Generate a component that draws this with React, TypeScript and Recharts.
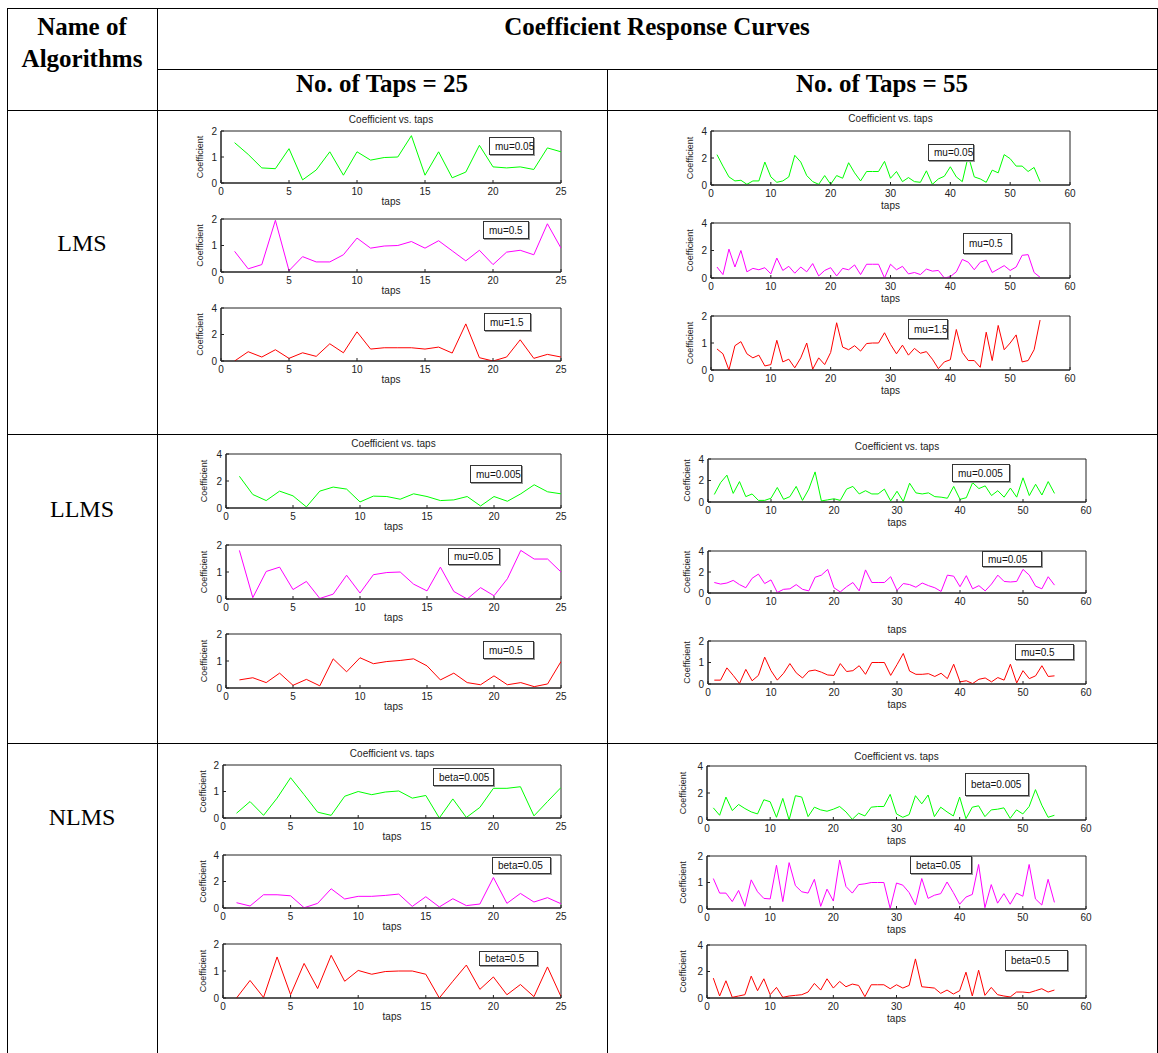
import { LineChart, Line, XAxis, YAxis, ReferenceArea } from 'recharts';

const taps25 = [1, 2, 3, 4, 5, 6, 7, 8, 9, 10, 11, 12, 13, 14, 15, 16, 17, 18, 19, 20, 21, 22, 23, 24, 25];
const taps55 = [
  1, 2, 3, 4, 5, 6, 7, 8, 9, 10, 11, 12, 13, 14, 15, 16, 17, 18, 19, 20, 21, 22, 23, 24, 25, 26, 27, 28,
  29, 30, 31, 32, 33, 34, 35, 36, 37, 38, 39, 40, 41, 42, 43, 44, 45, 46, 47, 48, 49, 50, 51, 52, 53, 54, 55,
];
const xTicks25 = [0, 5, 10, 15, 20, 25];
const xTicks55 = [0, 10, 20, 30, 40, 50, 60];
const yTicks2 = [0, 1, 2];
const yTicks4 = [0, 2, 4];

// LMS
const lms25Mu005 = [1.55, 1.1, 0.58, 0.55, 1.32, 0.12, 0.5, 1.2, 0.3, 1.2, 0.88, 0.98, 1.0, 1.82, 0.3, 1.2, 0.2, 0.42, 1.45, 0.62, 0.58, 0.62, 0.52, 1.35, 1.2];
const lms25Mu05 = [0.78, 0.12, 0.28, 1.95, 0.05, 0.58, 0.38, 0.38, 0.65, 1.28, 0.9, 0.98, 1.0, 1.15, 0.9, 1.18, 0.8, 0.42, 0.82, 0.28, 0.75, 0.82, 0.65, 1.82, 0.9];
const lms25Mu15 = [0, 0.7, 0.3, 0.85, 0.2, 0.62, 0.35, 1.3, 0.62, 2.2, 0.9, 1.0, 1.0, 1.0, 0.9, 1.05, 0.6, 2.8, 0.25, 0.0, 0.3, 1.6, 0.2, 0.5, 0.3];
const lms55Mu005 = [
  2.25, 1.4, 0.6, 0.3, 0.35, 0.05, 0.3, 0.3, 1.7, 0.6, 0.2, 0.3, 0.6, 2.2, 1.7, 0.7, 0.25, 0.05, 0.7, 0.05,
  0.7, 0.5, 1.65, 0.9, 0.3, 1.0, 1.0, 1.0, 1.75, 0.5, 1.0, 0.25, 0.55, 0.25, 0.2, 1.05, 0.05, 0.45, 0.65, 1.35,
  0.6, 0.25, 2.15, 0.6, 0.45, 0.2, 1.1, 0.9, 2.25, 1.95, 1.4, 1.4, 1.0, 1.3, 0.25,
];
const lms55Mu05 = [
  0.8, 0.25, 2.1, 0.8, 2.0, 0.45, 0.7, 0.6, 0.75, 0.3, 1.45, 0.55, 0.85, 0.35, 0.8, 0.45, 1.05, 0.15, 0.55, 0.75,
  0.15, 0.7, 0.6, 0.95, 0.25, 1.0, 1.0, 1.0, 0.0, 1.0, 0.6, 0.85, 0.3, 0.4, 0.25, 0.65, 0.5, 0.55, 0.0, 0.1,
  0.45, 1.35, 1.15, 0.6, 1.15, 1.3, 0.4, 0.65, 0.9, 0.55, 0.8, 1.65, 1.7, 0.4, 0.05,
];
const lms55Mu15 = [
  0.78, 0.6, 0.0, 0.9, 1.05, 0.6, 0.45, 0.55, 0.15, 0.2, 1.1, 0.3, 0.4, 0.08, 0.45, 1.0, 0.03, 0.45, 0.2, 0.65,
  1.75, 0.85, 0.75, 0.9, 0.7, 0.98, 1.0, 1.0, 1.38, 0.95, 0.6, 0.92, 0.55, 0.8, 0.62, 0.68, 0.4, 0.05, 0.3, 0.38,
  1.5, 0.65, 0.35, 0.35, 0.1, 1.4, 0.35, 1.65, 0.75, 1.0, 1.3, 0.3, 0.35, 0.75, 1.85,
];

// LLMS
const llms25Mu0005 = [2.35, 1.0, 0.55, 1.25, 0.9, 0.08, 1.25, 1.55, 1.4, 0.45, 0.88, 0.85, 0.65, 1.05, 0.85, 0.55, 0.6, 0.85, 0.15, 0.85, 0.5, 1.05, 1.72, 1.2, 1.05];
const llms25Mu005 = [1.8, 0.05, 1.02, 1.18, 0.35, 0.65, 0.02, 0.18, 0.88, 0.22, 0.9, 0.98, 1.0, 0.55, 0.3, 1.18, 0.28, 0.0, 0.42, 0.12, 0.75, 1.8, 1.48, 1.48, 1.0];
const llms25Mu05 = [0.3, 0.38, 0.2, 0.55, 0.1, 0.32, 0.08, 1.08, 0.6, 1.12, 0.9, 0.98, 1.02, 1.08, 0.82, 0.3, 0.55, 0.2, 0.12, 0.45, 0.12, 0.2, 0.05, 0.15, 0.98];
const llms55Mu0005 = [
  0.7, 1.8, 2.5, 0.8, 1.9, 0.5, 0.75, 0.15, 0.15, 0.35, 1.35, 0.25, 0.5, 1.45, 0.15, 1.2, 2.8, 0.1, 0.2, 0.3,
  0.15, 1.2, 1.45, 0.75, 1.05, 0.75, 0.75, 1.2, 0.1, 1.0, 0.05, 1.75, 0.85, 0.75, 0.85, 0.5, 0.45, 0.35, 1.45, 0.25,
  0.4, 1.8, 1.25, 1.5, 0.6, 1.05, 0.45, 1.3, 0.45, 2.25, 0.6, 1.65, 0.65, 1.9, 0.8,
];
const llms55Mu005 = [
  1.0, 0.85, 0.95, 1.2, 0.8, 0.5, 1.4, 1.8, 0.9, 1.25, 0.05, 0.35, 0.4, 0.8, 0.35, 0.2, 1.5, 1.7, 2.25, 0.5,
  0.1, 0.6, 1.0, 0.2, 2.2, 1.0, 1.0, 1.0, 1.55, 0.25, 0.9, 0.8, 0.55, 0.95, 0.7, 0.5, 0.15, 1.7, 1.6, 0.6,
  1.65, 0.4, 0.7, 0.2, 0.85, 1.7, 1.1, 1.05, 1.1, 2.25, 1.7, 0.65, 0.4, 1.55, 0.75,
];
const llms55Mu05 = [
  0.18, 0.18, 0.75, 0.4, 0.02, 0.68, 0.15, 0.4, 1.25, 0.62, 0.18, 0.5, 0.95, 0.52, 0.28, 0.6, 0.65, 0.55, 0.42, 0.4,
  0.95, 0.58, 0.62, 0.85, 0.45, 1.0, 1.0, 1.0, 0.4, 0.9, 1.42, 0.6, 0.45, 0.45, 0.48, 0.35, 0.5, 0.25, 0.92, 0.1,
  0.15, 0.02, 0.22, 0.28, 0.1, 0.3, 0.18, 0.92, 0.05, 0.62, 0.25, 0.38, 0.85, 0.35, 0.38,
];

// NLMS
const nlms25Beta0005 = [0.18, 0.62, 0.1, 0.75, 1.52, 0.88, 0.22, 0.1, 0.82, 1.0, 0.88, 0.98, 1.02, 0.75, 0.85, 0.0, 0.72, 0.02, 0.4, 1.12, 1.12, 1.18, 0.08, 0.62, 1.15];
const nlms25Beta005 = [0.4, 0.15, 1.0, 1.0, 0.92, 0.02, 0.35, 1.45, 0.68, 0.88, 0.88, 0.95, 1.05, 0.12, 0.85, 0.08, 0.7, 0.18, 0.3, 2.3, 0.35, 1.1, 0.45, 0.78, 0.32];
const nlms25Beta05 = [0.0, 0.65, 0.02, 1.52, 0.12, 1.28, 0.35, 1.58, 0.62, 1.02, 0.88, 0.98, 1.0, 1.0, 0.88, 0.0, 0.62, 1.22, 0.32, 0.78, 0.12, 0.5, 0.05, 1.15, 0.05];
const nlms55Beta0005 = [
  0.9, 0.35, 1.7, 0.7, 1.15, 0.85, 0.6, 0.45, 1.5, 1.35, 0.2, 1.6, 0.0, 1.8, 1.7, 0.25, 0.95, 0.75, 0.65, 0.8,
  1.0, 0.6, 0.05, 0.5, 0.3, 0.95, 1.0, 1.0, 1.9, 0.45, 0.2, 0.4, 1.8, 1.2, 1.85, 0.25, 0.95, 0.6, 0.3, 1.7,
  0.1, 0.95, 1.05, 0.25, 0.75, 0.8, 0.9, 0.12, 0.75, 0.45, 1.0, 2.25, 1.1, 0.2, 0.35,
];
const nlms55Beta005 = [
  1.15, 0.6, 0.6, 0.28, 0.7, 0.1, 1.1, 0.65, 0.4, 0.38, 1.65, 0.28, 1.75, 0.88, 0.65, 0.6, 1.12, 0.1, 0.75, 0.3,
  1.85, 0.85, 0.6, 0.92, 0.95, 1.0, 1.0, 1.0, 0.02, 0.98, 0.9, 0.62, 0.15, 1.15, 0.4, 0.52, 0.58, 1.02, 0.62, 0.18,
  0.45, 0.55, 1.68, 0.05, 0.92, 0.22, 0.58, 0.18, 0.6, 0.48, 1.68, 0.38, 0.15, 1.12, 0.25,
];
const nlms55Beta05 = [
  1.5, 0.15, 1.3, 0.05, 0.15, 0.25, 1.65, 0.55, 1.45, 0.25, 0.8, 0.05, 0.15, 0.2, 0.25, 0.45, 1.1, 0.6, 1.45, 0.75,
  1.25, 0.85, 1.05, 0.95, 0.1, 1.0, 1.0, 1.0, 0.7, 1.0, 0.75, 0.95, 2.95, 0.85, 0.8, 0.75, 0.35, 0.6, 0.3, 0.55,
  1.95, 0.15, 2.1, 0.2, 0.8, 0.25, 0.15, 0.08, 0.45, 0.45, 0.4, 0.55, 0.7, 0.45, 0.6,
];

const GREEN = '#00ff00';
const MAGENTA = '#ff00ff';
const RED = '#ff0000';

const sans = '"Liberation Sans", Arial, Helvetica, sans-serif';
const serif = '"Liberation Serif", "Times New Roman", Times, serif';
const axisColor = '#222';
const tickStyle = { fontSize: 10, fill: '#222', fontFamily: sans };

type Box = { x: number; y: number; w: number; h: number };

interface PlotProps {
  box: Box;
  taps: number[];
  values: number[];
  color: string;
  xTicks: number[];
  yTicks: number[];
  legendText: string;
  legend: Box;
  title?: number; // distance from box top to title centre
  tapsGap?: number; // box bottom to "taps" baseline
  ylabGap?: number;
}

function MiniPlot({ box, taps, values, color, xTicks, yTicks, legendText, legend, title, tapsGap = 22, ylabGap = 21 }: PlotProps) {
  const L = 40;
  const T = 8;
  const R = 12;
  const B = tapsGap + 6;
  const data = taps.map((t, i) => ({ tap: t, value: values[i] }));
  const xMax = xTicks[xTicks.length - 1];
  const yMax = yTicks[yTicks.length - 1];

  return (
    <>
      {title !== undefined && (
        <div
          style={{
            position: 'absolute',
            left: box.x,
            width: box.w,
            top: box.y - title - 7,
            height: 14,
            lineHeight: '14px',
            textAlign: 'center',
            fontFamily: sans,
            fontSize: 10,
            color: '#222',
          }}
        >
          Coefficient vs. taps
        </div>
      )}
      <div style={{ position: 'absolute', left: box.x - L, top: box.y - T }}>
        <LineChart
          width={box.w + L + R}
          height={box.h + T + B}
          data={data}
          margin={{ top: T, right: R, left: 0, bottom: B - tapsGap }}
        >
          <XAxis
            dataKey="tap"
            type="number"
            domain={[0, xMax]}
            ticks={xTicks}
            interval={0}
            allowDataOverflow
            height={tapsGap}
            tickSize={-3}
            tickMargin={8}
            tick={tickStyle}
            stroke={axisColor}
            label={{ value: 'taps', position: 'insideBottom', offset: 0, style: { fontSize: 10, fill: '#222', fontFamily: sans } }}
          />
          <YAxis
            type="number"
            domain={[0, yMax]}
            ticks={yTicks}
            interval={0}
            allowDataOverflow
            width={L}
            tickSize={-3}
            tickMargin={7}
            tick={tickStyle}
            stroke={axisColor}
            label={{
              value: 'Coefficient',
              angle: -90,
              position: 'insideLeft',
              offset: L - ylabGap,
              style: { fontSize: 9, fill: '#222', fontFamily: sans, textAnchor: 'middle' },
            }}
          />
          {/* axes box, as in MATLAB's "box on" */}
          <ReferenceArea x1={0} x2={xMax} y1={0} y2={yMax} fill="none" stroke={axisColor} strokeWidth={1} ifOverflow="visible" />
          <Line
            dataKey="value"
            type="linear"
            stroke={color}
            strokeWidth={1}
            dot={false}
            isAnimationActive={false}
          />
        </LineChart>
      </div>
      <div
        style={{
          position: 'absolute',
          left: legend.x,
          top: legend.y,
          width: legend.w,
          height: legend.h,
          boxSizing: 'border-box',
          border: '1px solid #333',
          boxShadow: '1px 1px 0 #999',
          background: '#fff',
          display: 'flex',
          alignItems: 'center',
          paddingLeft: 5,
          whiteSpace: 'nowrap',
          fontFamily: sans,
          fontSize: 10,
          color: '#111',
        }}
      >
        {legendText}
      </div>
    </>
  );
}

function HLine({ x1, x2, y }: { x1: number; x2: number; y: number }) {
  return <div style={{ position: 'absolute', left: x1, top: y, width: x2 - x1, height: 1, background: '#000' }} />;
}

function VLine({ x, y1, y2 }: { x: number; y1: number; y2: number }) {
  return <div style={{ position: 'absolute', left: x, top: y1, width: 1, height: y2 - y1, background: '#000' }} />;
}

function CellText({ left, width, cy, text, bold, size }: { left: number; width: number; cy: number; text: string; bold?: boolean; size: number }) {
  return (
    <div
      style={{
        position: 'absolute',
        left,
        width,
        top: cy - 16,
        height: 32,
        lineHeight: '32px',
        textAlign: 'center',
        fontFamily: serif,
        fontWeight: bold ? 'bold' : 'normal',
        fontSize: size,
        color: '#000',
        whiteSpace: 'nowrap',
      }}
    >
      {text}
    </div>
  );
}

export default function App() {
  return (
    <div style={{ position: 'absolute', left: 0, top: 0, width: 1158, height: 1053, background: '#fff', overflow: 'hidden' }}>
      {/* table grid */}
      <HLine x1={7} x2={1158} y={8} />
      <HLine x1={157} x2={1158} y={69} />
      <HLine x1={7} x2={1158} y={110} />
      <HLine x1={7} x2={1158} y={434} />
      <HLine x1={7} x2={1158} y={743} />
      <VLine x={7} y1={8} y2={1053} />
      <VLine x={157} y1={8} y2={1053} />
      <VLine x={607} y1={69} y2={1053} />
      <VLine x={1157} y1={8} y2={1053} />

      <CellText left={7} width={150} cy={27} text="Name of" bold size={25} />
      <CellText left={7} width={150} cy={59} text="Algorithms" bold size={25} />
      <CellText left={157} width={1000} cy={27} text="Coefficient Response Curves" bold size={25} />
      <CellText left={157} width={450} cy={84} text="No. of Taps = 25" bold size={25} />
      <CellText left={607} width={550} cy={84} text="No. of Taps = 55" bold size={25} />
      <CellText left={7} width={150} cy={243} text="LMS" size={24} />
      <CellText left={7} width={150} cy={509} text="LLMS" size={24} />
      <CellText left={7} width={150} cy={817} text="NLMS" size={24} />

      {/* LMS, 25 taps */}
      <MiniPlot box={{ x: 221, y: 131, w: 340, h: 52 }} title={11} taps={taps25} values={lms25Mu005} color={GREEN} xTicks={xTicks25} yTicks={yTicks2} legendText="mu=0.05" legend={{ x: 489, y: 137, w: 45, h: 18 }} />
      <MiniPlot box={{ x: 221, y: 219, w: 340, h: 53 }} taps={taps25} values={lms25Mu05} color={MAGENTA} xTicks={xTicks25} yTicks={yTicks2} legendText="mu=0.5" legend={{ x: 483, y: 221, w: 46, h: 18 }} />
      <MiniPlot box={{ x: 221, y: 308, w: 340, h: 53 }} taps={taps25} values={lms25Mu15} color={RED} xTicks={xTicks25} yTicks={yTicks4} legendText="mu=1.5" legend={{ x: 484, y: 313, w: 47, h: 18 }} />

      {/* LMS, 55 taps */}
      <MiniPlot box={{ x: 711, y: 131, w: 359, h: 54 }} title={12} tapsGap={24} taps={taps55} values={lms55Mu005} color={GREEN} xTicks={xTicks55} yTicks={yTicks4} legendText="mu=0.05" legend={{ x: 928, y: 144, w: 46, h: 17 }} />
      <MiniPlot box={{ x: 711, y: 223, w: 359, h: 55 }} tapsGap={24} taps={taps55} values={lms55Mu05} color={MAGENTA} xTicks={xTicks55} yTicks={yTicks4} legendText="mu=0.5" legend={{ x: 963, y: 233, w: 49, h: 21 }} />
      <MiniPlot box={{ x: 711, y: 316, w: 359, h: 54 }} tapsGap={24} taps={taps55} values={lms55Mu15} color={RED} xTicks={xTicks55} yTicks={yTicks2} legendText="mu=1.5" legend={{ x: 908, y: 319, w: 40, h: 20 }} />

      {/* LLMS, 25 taps */}
      <MiniPlot box={{ x: 226, y: 454, w: 335, h: 54 }} title={10} ylabGap={22} taps={taps25} values={llms25Mu0005} color={GREEN} xTicks={xTicks25} yTicks={yTicks4} legendText="mu=0.005" legend={{ x: 470, y: 465, w: 52, h: 18 }} />
      <MiniPlot box={{ x: 226, y: 545, w: 335, h: 54 }} ylabGap={22} taps={taps25} values={llms25Mu005} color={MAGENTA} xTicks={xTicks25} yTicks={yTicks2} legendText="mu=0.05" legend={{ x: 448, y: 548, w: 52, h: 17 }} />
      <MiniPlot box={{ x: 226, y: 634, w: 335, h: 54 }} ylabGap={22} taps={taps25} values={llms25Mu05} color={RED} xTicks={xTicks25} yTicks={yTicks2} legendText="mu=0.5" legend={{ x: 483, y: 641, w: 51, h: 18 }} />

      {/* LLMS, 55 taps */}
      <MiniPlot box={{ x: 708, y: 459, w: 378, h: 43 }} title={12} tapsGap={24} taps={taps55} values={llms55Mu0005} color={GREEN} xTicks={xTicks55} yTicks={yTicks4} legendText="mu=0.005" legend={{ x: 952, y: 464, w: 58, h: 18 }} />
      <MiniPlot box={{ x: 708, y: 551, w: 378, h: 42 }} tapsGap={40} taps={taps55} values={llms55Mu005} color={MAGENTA} xTicks={xTicks55} yTicks={yTicks4} legendText="mu=0.05" legend={{ x: 982, y: 551, w: 60, h: 16 }} />
      <MiniPlot box={{ x: 708, y: 641, w: 378, h: 43 }} tapsGap={24} taps={taps55} values={llms55Mu05} color={RED} xTicks={xTicks55} yTicks={yTicks2} legendText="mu=0.5" legend={{ x: 1015, y: 644, w: 59, h: 16 }} />

      {/* NLMS, 25 taps */}
      <MiniPlot box={{ x: 223, y: 765, w: 338, h: 53 }} title={11} ylabGap={20} taps={taps25} values={nlms25Beta0005} color={GREEN} xTicks={xTicks25} yTicks={yTicks2} legendText="beta=0.005" legend={{ x: 433, y: 768, w: 61, h: 18 }} />
      <MiniPlot box={{ x: 223, y: 855, w: 338, h: 53 }} ylabGap={20} taps={taps25} values={nlms25Beta005} color={MAGENTA} xTicks={xTicks25} yTicks={yTicks4} legendText="beta=0.05" legend={{ x: 492, y: 857, w: 59, h: 17 }} />
      <MiniPlot box={{ x: 223, y: 944, w: 338, h: 54 }} ylabGap={20} taps={taps25} values={nlms25Beta05} color={RED} xTicks={xTicks25} yTicks={yTicks2} legendText="beta=0.5" legend={{ x: 479, y: 951, w: 59, h: 15 }} />

      {/* NLMS, 55 taps */}
      <MiniPlot box={{ x: 707, y: 766, w: 379, h: 54 }} title={9} tapsGap={24} ylabGap={24} taps={taps55} values={nlms55Beta0005} color={GREEN} xTicks={xTicks55} yTicks={yTicks4} legendText="beta=0.005" legend={{ x: 965, y: 773, w: 64, h: 23 }} />
      <MiniPlot box={{ x: 707, y: 856, w: 379, h: 53 }} tapsGap={24} ylabGap={24} taps={taps55} values={nlms55Beta005} color={MAGENTA} xTicks={xTicks55} yTicks={yTicks2} legendText="beta=0.05" legend={{ x: 910, y: 856, w: 62, h: 18 }} />
      <MiniPlot box={{ x: 707, y: 945, w: 379, h: 53 }} tapsGap={24} ylabGap={24} taps={taps55} values={nlms55Beta05} color={RED} xTicks={xTicks55} yTicks={yTicks4} legendText="beta=0.5" legend={{ x: 1005, y: 950, w: 63, h: 21 }} />
    </div>
  );
}
